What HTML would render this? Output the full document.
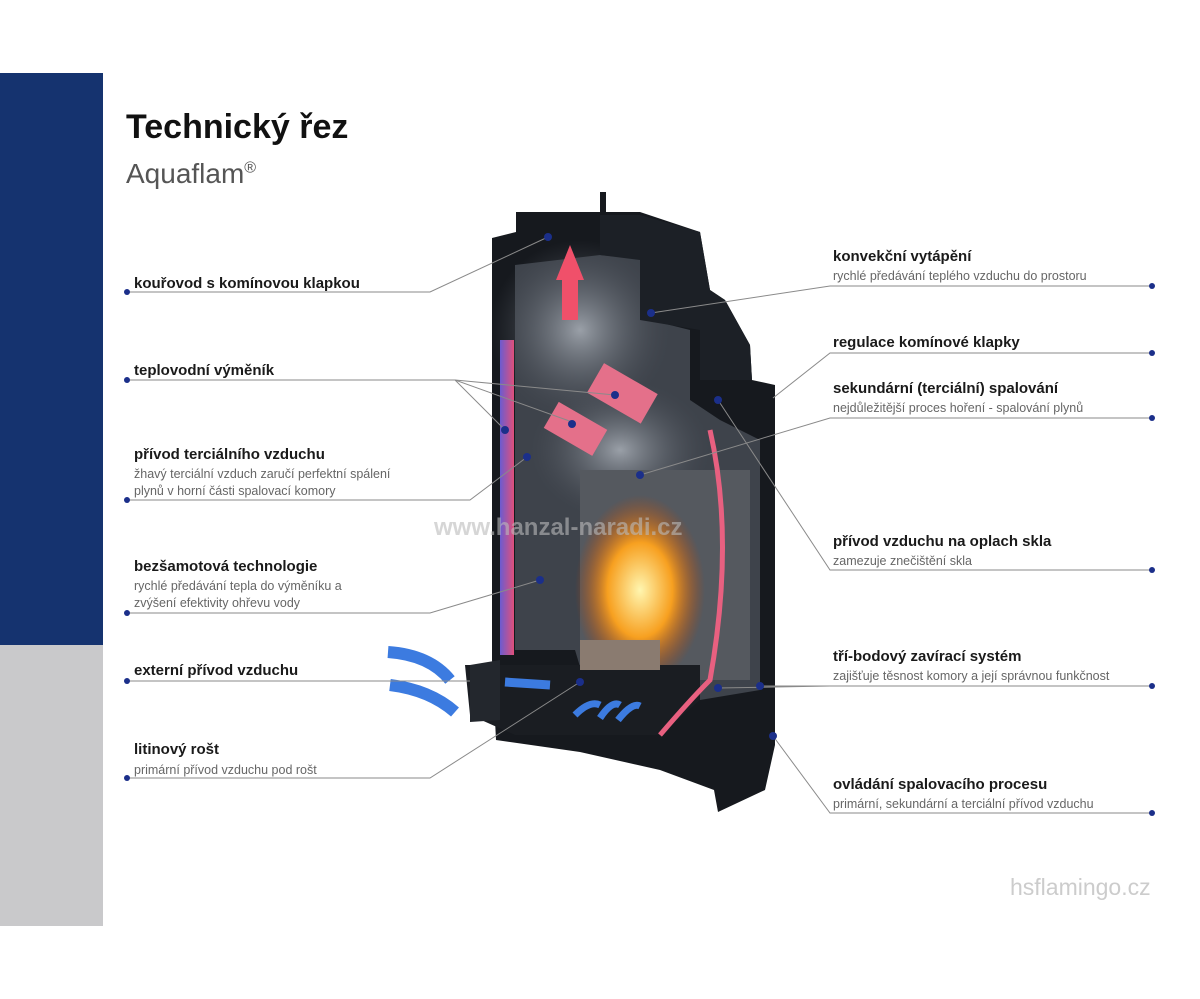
<!DOCTYPE html>
<html><head><meta charset="utf-8"><style>
body{margin:0;width:1200px;height:999px;background:#fff;position:relative;overflow:hidden;font-family:"Liberation Sans",sans-serif}
.t{position:absolute;font-size:15px;font-weight:bold;color:#1a1a1a;white-space:nowrap}
.s{position:absolute;font-size:12.5px;color:#666;line-height:17px;white-space:nowrap}
</style></head><body>
<div style="position:absolute;left:0;top:73px;width:103px;height:572px;background:#15336f"></div>
<div style="position:absolute;left:0;top:645px;width:103px;height:281px;background:#c9c9cb"></div>
<div style="position:absolute;left:126px;top:108px;font-size:34px;font-weight:bold;color:#111">Technický řez</div>
<div style="position:absolute;left:126px;top:158px;font-size:28px;color:#555">Aquaflam<sup style="font-size:16px">®</sup></div>
<svg style="position:absolute;left:0;top:0" width="1200" height="999">
<defs>
<linearGradient id="g1" x1="0" x2="1"><stop offset="0" stop-color="#6b5bd0"/><stop offset="1" stop-color="#e0507a"/></linearGradient>
<radialGradient id="fire"><stop offset="0" stop-color="#fff6b0"/><stop offset=".5" stop-color="#f7a020"/><stop offset="1" stop-color="#c04000" stop-opacity="0"/></radialGradient>
<radialGradient id="smoke"><stop offset="0" stop-color="#9aa0a8"/><stop offset="1" stop-color="#4a4f58" stop-opacity="0"/></radialGradient>
</defs>
<polygon points="492,238 516,232 516,212 600,212 600,192 606,192 606,212 640,212 700,232 710,290 725,300 750,345 752,380 775,385 775,745 765,790 718,812 714,790 660,770 580,752 510,742 496,740 492,660" fill="#16191e"/>
<polygon points="515,265 600,255 650,260 650,320 690,330 690,400 720,420 760,440 760,690 700,700 590,700 575,650 515,650" fill="#3e434b"/>
<ellipse cx="580" cy="330" rx="90" ry="90" fill="url(#smoke)"/>
<ellipse cx="620" cy="450" rx="90" ry="70" fill="url(#smoke)"/>
<polygon points="600,215 640,215 700,232 710,290 725,300 750,345 752,380 700,380 700,330 640,320 640,260 600,255" fill="#1c2026"/>
<rect x="580" y="470" width="170" height="210" fill="#55595f"/>
<ellipse cx="640" cy="590" rx="65" ry="95" fill="url(#fire)"/>
<rect x="500" y="340" width="14" height="315" fill="url(#g1)"/>
<polygon points="556,280 570,245 584,280 578,280 578,320 562,320 562,280" fill="#f0506a"/>
<g transform="rotate(30 576 428)"><rect x="548" y="414" width="56" height="30" fill="#e4708a"/></g>
<g transform="rotate(30 622 392)"><rect x="592" y="376" width="62" height="34" fill="#e4708a"/></g>
<polygon points="465,665 700,665 700,700 660,735 515,735 470,715" fill="#1a1d22"/>
<polygon points="470,665 500,660 500,720 470,722" fill="#23272d"/>
<path d="M388,652 Q430,655 450,680" stroke="#3c7be0" stroke-width="12" fill="none"/>
<path d="M390,685 Q430,690 455,712" stroke="#3c7be0" stroke-width="12" fill="none"/>
<path d="M505,682 L550,685" stroke="#3c7be0" stroke-width="9" fill="none"/>
<path d="M575,715 Q590,700 600,705 M600,718 Q612,700 620,705 M618,720 Q632,702 640,706" stroke="#3c7be0" stroke-width="7" fill="none"/>
<path d="M660,735 Q690,700 710,680 Q735,540 710,430" stroke="#e86080" stroke-width="5" fill="none"/>
<rect x="580" y="640" width="80" height="30" fill="#8a7b70"/>
<g stroke="#8a8a8a" stroke-width="1" fill="none">
<polyline points="127,292 430,292 548,237"/>
<polyline points="127,380 455,380 505,430"/>
<polyline points="455,380 575,423"/><polyline points="455,380 615,395"/>
<polyline points="127,500 470,500 527,457"/>
<polyline points="127,613 430,613 540,580"/>
<polyline points="127,681 470,681"/>
<polyline points="127,778 430,778 580,682"/>
<polyline points="1152,286 830,286 651,313"/>
<polyline points="1152,353 830,353 773,398"/>
<polyline points="1152,418 830,418 640,475"/>
<polyline points="1152,570 830,570 718,400"/>
<polyline points="1152,686 760,686"/>
<polyline points="1152,686 830,686 718,688"/>
<polyline points="1152,813 830,813 773,736"/>
</g>
<g fill="#1b2f8a">
<circle cx="127" cy="292" r="3"/><circle cx="127" cy="380" r="3"/><circle cx="127" cy="500" r="3"/><circle cx="127" cy="613" r="3"/><circle cx="127" cy="681" r="3"/><circle cx="127" cy="778" r="3"/>
<circle cx="1152" cy="286" r="3"/><circle cx="1152" cy="353" r="3"/><circle cx="1152" cy="418" r="3"/><circle cx="1152" cy="570" r="3"/><circle cx="1152" cy="686" r="3"/><circle cx="1152" cy="813" r="3"/>
<circle cx="548" cy="237" r="4"/><circle cx="505" cy="430" r="4"/><circle cx="572" cy="424" r="4"/><circle cx="615" cy="395" r="4"/><circle cx="527" cy="457" r="4"/><circle cx="540" cy="580" r="4"/><circle cx="651" cy="313" r="4"/><circle cx="640" cy="475" r="4"/><circle cx="718" cy="400" r="4"/><circle cx="760" cy="686" r="4"/><circle cx="718" cy="688" r="4"/><circle cx="773" cy="736" r="4"/><circle cx="580" cy="682" r="4"/>
</g>
<text x="434" y="535" font-family="Liberation Sans" font-weight="bold" font-size="24" fill="#bbb" fill-opacity=".6">www.hanzal-naradi.cz</text>
</svg>
<div class="t" style="left:134px;top:275px">kouřovod s komínovou klapkou</div>
<div class="t" style="left:134px;top:362px">teplovodní výměník</div>
<div class="t" style="left:134px;top:446px">přívod terciálního vzduchu</div>
<div class="s" style="left:134px;top:466px">žhavý terciální vzduch zaručí perfektní spálení<br>plynů v horní části spalovací komory</div>
<div class="t" style="left:134px;top:558px">bezšamotová technologie</div>
<div class="s" style="left:134px;top:578px">rychlé předávání tepla do výměníku a<br>zvýšení efektivity ohřevu vody</div>
<div class="t" style="left:134px;top:662px">externí přívod vzduchu</div>
<div class="t" style="left:134px;top:741px">litinový rošt</div>
<div class="s" style="left:134px;top:762px">primární přívod vzduchu pod rošt</div>
<div class="t" style="left:833px;top:248px">konvekční vytápění</div>
<div class="s" style="left:833px;top:268px">rychlé předávání teplého vzduchu do prostoru</div>
<div class="t" style="left:833px;top:334px">regulace komínové klapky</div>
<div class="t" style="left:833px;top:380px">sekundární (terciální) spalování</div>
<div class="s" style="left:833px;top:400px">nejdůležitější proces hoření - spalování plynů</div>
<div class="t" style="left:833px;top:533px">přívod vzduchu na oplach skla</div>
<div class="s" style="left:833px;top:553px">zamezuje znečištění skla</div>
<div class="t" style="left:833px;top:648px">tří-bodový zavírací systém</div>
<div class="s" style="left:833px;top:668px">zajišťuje těsnost komory a její správnou funkčnost</div>
<div class="t" style="left:833px;top:776px">ovládání spalovacího procesu</div>
<div class="s" style="left:833px;top:796px">primární, sekundární a terciální přívod vzduchu</div>
<div style="position:absolute;left:1010px;top:874px;font-size:23px;color:#ccc">hsflamingo.cz</div>
</body></html>
